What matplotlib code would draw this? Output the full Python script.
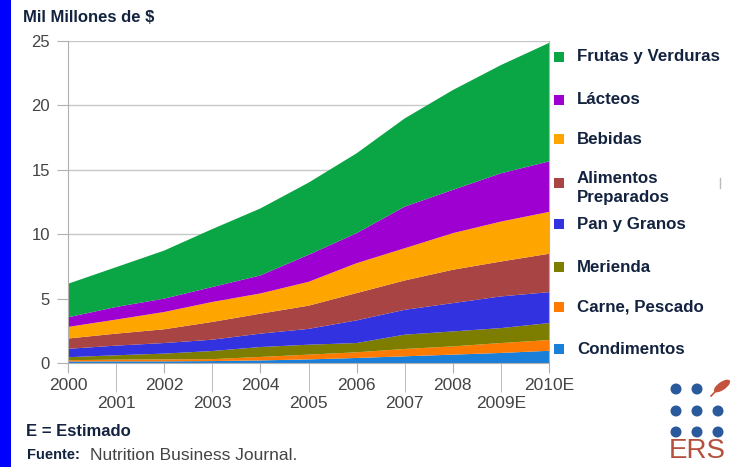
import matplotlib
matplotlib.use("Agg")
import matplotlib.pyplot as plt
from matplotlib.patches import Rectangle, Ellipse

plt.rcParams['font.family'] = ['Liberation Sans', 'DejaVu Sans']

W, H = 732, 467

years = [2000, 2001, 2002, 2003, 2004, 2005, 2006, 2007, 2008, 2009, 2010]
year_labels = ['2000', '2001', '2002', '2003', '2004', '2005',
               '2006', '2007', '2008', '2009E', '2010E']

# billions of $, bottom to top of the stack
condimentos = [0.12, 0.13, 0.13, 0.15, 0.20, 0.28, 0.39, 0.52, 0.65, 0.78, 0.95]
carne = [0.10, 0.13, 0.15, 0.15, 0.27, 0.37, 0.44, 0.57, 0.64, 0.77, 0.83]
merienda = [0.23, 0.34, 0.45, 0.63, 0.77, 0.77, 0.72, 1.11, 1.16, 1.16, 1.32]
pan = [0.65, 0.75, 0.82, 0.88, 1.04, 1.23, 1.76, 1.93, 2.20, 2.46, 2.40]
alimentos = [0.80, 0.93, 1.07, 1.38, 1.55, 1.80, 2.12, 2.28, 2.59, 2.71, 2.98]
bebidas = [0.90, 1.09, 1.34, 1.55, 1.57, 1.85, 2.32, 2.50, 2.84, 3.10, 3.25]
lacteos = [0.75, 0.98, 1.04, 1.16, 1.40, 2.10, 2.33, 3.23, 3.36, 3.75, 3.92]
frutas = [2.60, 3.09, 3.73, 4.50, 5.20, 5.60, 6.20, 6.85, 7.75, 8.40, 9.20]

series = [condimentos, carne, merienda, pan, alimentos, bebidas, lacteos, frutas]
names = ['Condimentos', 'Carne, Pescado', 'Merienda', 'Pan y Granos',
         'Alimentos\nPreparados', 'Bebidas', 'Lácteos', 'Frutas y Verduras']
colors = ['#1a7fd8', '#ff7a00', '#7d7d00', '#3232e0',
          '#a84444', '#ffa500', '#9e00d2', '#0aa544']

navy = '#13233f'
gray_txt = '#444444'

fig = plt.figure(figsize=(W / 100, H / 100), dpi=100)

# overlay in pixel coordinates for decorations
ov = fig.add_axes([0, 0, 1, 1])
ov.set_xlim(0, W)
ov.set_ylim(H, 0)
ov.axis('off')

ax = fig.add_axes([68 / W, 1 - 363 / H, (549 - 68) / W, (363 - 41) / H])
ax.stackplot(years, *series, colors=colors, linewidth=0)
ax.set_xlim(2000, 2010)
ax.set_ylim(0, 25)
ax.set_yticks([0, 5, 10, 15, 20, 25])
ax.yaxis.grid(True, color='#c8c8c8', linewidth=1)
ax.set_axisbelow(True)
for s in ax.spines.values():
    s.set_color('#b0b0b0')
ax.spines['top'].set_visible(False)
ax.tick_params(axis='y', length=8, color='#b0b0b0', labelsize=12,
               labelcolor=gray_txt, pad=5)

ax.set_xticks(years[0::2], year_labels[0::2])
ax.set_xticks(years[1::2], year_labels[1::2], minor=True)
ax.tick_params(axis='x', which='major', length=7.5, color='#b0b0b0',
               labelsize=12.5, labelcolor=gray_txt, pad=3)
ax.tick_params(axis='x', which='minor', length=21, color='#b0b0b0',
               labelsize=12.5, labelcolor=gray_txt, pad=3)

# left blue band
ov.add_patch(Rectangle((0, 0), 11, H, color='#0000ff', lw=0))

ov.text(23, 18, 'Mil Millones de $', fontsize=12, fontweight='bold',
        color=navy, va='center', ha='left')

# legend, drawn top to bottom
leg_y = [349, 307, 267, 224, 183, 139, 100, 57]
for name, c, y in zip(names, colors, leg_y):
    ov.add_patch(Rectangle((554, y - 5), 10, 10, color=c, lw=0))
    ty = y + 5 if '\n' in name else y
    ov.text(577, ty, name, fontsize=12.2, fontweight='bold', color=navy,
            va='center', ha='left', linespacing=1.3)
ov.plot([720, 720], [178, 188], color='#bbbbbb', lw=1)

ov.text(26, 431, 'E = Estimado', fontsize=12, fontweight='bold',
        color=navy, va='center', ha='left')
ov.text(27, 455, 'Fuente:', fontsize=10.5, fontweight='bold',
        color=navy, va='center', ha='left')
ov.text(90, 456, 'Nutrition Business Journal.', fontsize=12.5,
        color=gray_txt, va='center', ha='left')

# ERS logo
dot = '#2a5a9c'
for cy in [389, 411, 432]:
    for cx in [676, 697, 718]:
        if cx == 718 and cy == 389:
            continue
        ov.add_patch(Ellipse((cx, cy), 11, 11, color=dot, lw=0))
ov.add_patch(Ellipse((722, 386), 19, 8, angle=-35, color='#c4533d', lw=0))
ov.plot([711, 716], [396, 391], color='#c4533d', lw=1.2)
ov.text(697, 451, 'ERS', fontsize=20, color='#b5503d', ha='center',
        va='center')

fig.savefig('out.png', dpi=100)
